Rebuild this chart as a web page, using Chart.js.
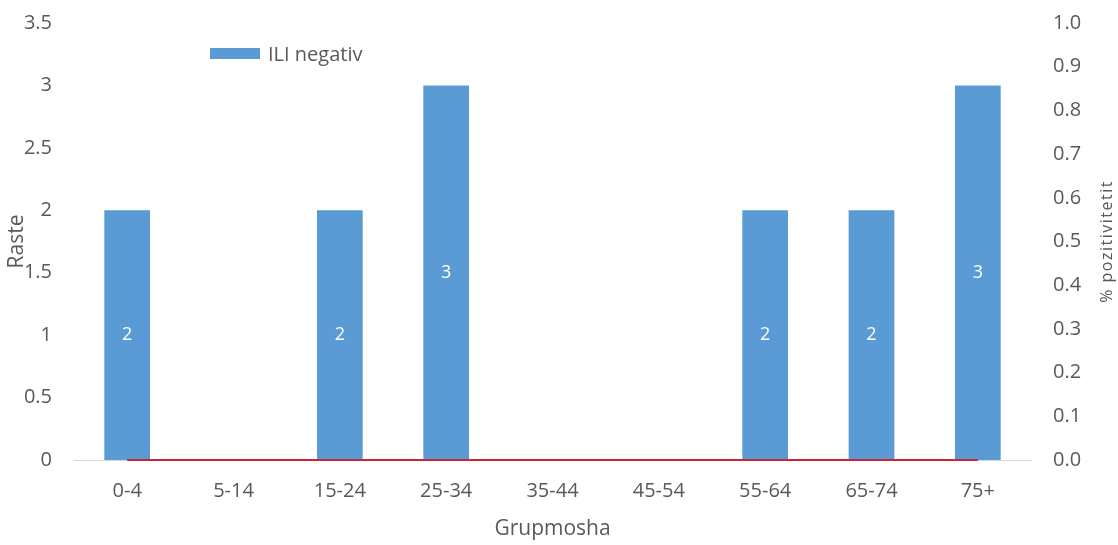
<!DOCTYPE html>
<html>
<head>
<meta charset="utf-8">
<script src="https://cdn.jsdelivr.net/npm/chart.js@4/dist/chart.umd.min.js"></script>
<style>
  html, body { margin: 0; padding: 0; background: #fff; }
  #wrap { position: relative; width: 1118px; height: 545px; }
  #legend {
    position: absolute; left: 210px; top: 40px;
    font-family: "Open Sans", sans-serif; font-size: 20px; color: #595959;
    display: flex; align-items: center;
  }
  #legend span.box { display: inline-block; width: 50px; height: 11px; background: #5B9BD5; margin-right: 8px; }
</style>
</head>
<body>
<div id="wrap">
  <canvas id="chart" width="1118" height="545"></canvas>
  <div id="legend"><span class="box"></span><span>ILI negativ</span></div>
</div>
<script>
const ageGroups = ['0-4', '5-14', '15-24', '25-34', '35-44', '45-54', '55-64', '65-74', '75+'];
const iliNegative = [2, 0, 2, 3, 0, 0, 2, 2, 3];
const positivity = [0, 0, 0, 0, 0, 0, 0, 0, 0];

const textColor = '#595959';
const fontFamily = '"Open Sans", sans-serif';

// white value labels in the middle of each bar
const barLabels = {
    id: 'barLabels',
    afterDatasetsDraw(chart) {
        const ctx = chart.ctx;
        const meta = chart.getDatasetMeta(1);
        ctx.save();
        ctx.fillStyle = '#ffffff';
        ctx.font = '18px ' + fontFamily;
        ctx.textAlign = 'center';
        ctx.textBaseline = 'middle';
        meta.data.forEach((bar, i) => {
            const v = iliNegative[i];
            if (!v) return;
            ctx.fillText(String(v), bar.x, (bar.y + bar.base) / 2);
        });
        ctx.restore();
    }
};

// right axis title reads bottom-to-top like the left one
const rightTitle = {
    id: 'rightTitle',
    afterDraw(chart) {
        const ctx = chart.ctx;
        const s = chart.scales.y1;
        ctx.save();
        ctx.translate(s.right - 11, (s.top + s.bottom) / 2);
        ctx.rotate(-Math.PI / 2);
        ctx.fillStyle = textColor;
        ctx.font = '16px ' + fontFamily;
        ctx.letterSpacing = '1.5px';
        ctx.textAlign = 'center';
        ctx.textBaseline = 'middle';
        ctx.fillText('% pozitivitetit', 0, 0);
        ctx.restore();
    }
};

const chart = new Chart(document.getElementById('chart'), {
    type: 'bar',
    data: {
        labels: ageGroups,
        datasets: [
            {
                type: 'line',
                label: '% pozitivitetit',
                data: positivity,
                yAxisID: 'y1',
                borderColor: '#C8282D',
                borderWidth: 2,
                pointRadius: 0,
                fill: false,
                clip: false,
                order: 0
            },
            {
                label: 'ILI negativ',
                data: iliNegative,
                yAxisID: 'y',
                backgroundColor: '#5B9BD5',
                barPercentage: 0.43,
                categoryPercentage: 1.0,
                order: 1
            }
        ]
    },
    options: {
        responsive: false,
        animation: false,
        layout: { padding: { top: 23, left: 0, right: 0, bottom: 0 } },
        plugins: {
            legend: { display: false },
            tooltip: { enabled: false }
        },
        scales: {
            x: {
                grid: { display: false, drawTicks: false },
                border: { display: true, color: '#D9D9D9', width: 1 },
                ticks: { color: textColor, font: { family: fontFamily, size: 20 }, padding: 19, maxRotation: 0 },
                title: { display: true, text: 'Grupmosha', color: textColor, font: { family: fontFamily, size: 21 }, padding: { top: 0, bottom: 3 } },
                afterFit(scale) { scale.height = 85; scale.paddingLeft = 0; scale.paddingRight = 0; }
            },
            y: {
                position: 'left',
                min: 0,
                max: 3.5,
                grid: { display: false, drawTicks: false },
                border: { display: false },
                ticks: { stepSize: 0.5, color: textColor, font: { family: fontFamily, size: 20 }, padding: 22, callback: v => String(v) },
                title: { display: true, text: 'Raste', color: textColor, font: { family: fontFamily, size: 21 }, padding: { top: 4, bottom: 0 } },
                afterFit(scale) { scale.width = 74; scale.paddingTop = 0; scale.paddingBottom = 0; }
            },
            y1: {
                position: 'right',
                min: 0,
                max: 1,
                grid: { display: false, drawTicks: false },
                border: { display: false },
                ticks: { stepSize: 0.1, color: textColor, font: { family: fontFamily, size: 20 }, padding: 22, callback: v => Number(v).toFixed(1) },
                title: { display: false },
                afterFit(scale) { scale.width = 87; scale.paddingTop = 0; scale.paddingBottom = 0; }
            }
        }
    },
    plugins: [barLabels, rightTitle]
});
</script>
</body>
</html>
